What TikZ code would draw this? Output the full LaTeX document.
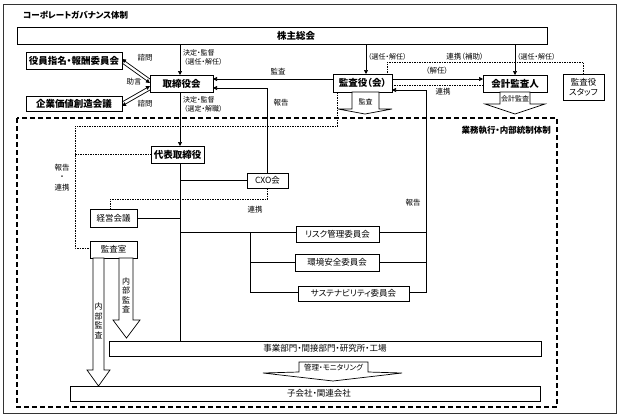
\documentclass[tikz,border=0pt]{standalone}
\usepackage{fontspec}
\setmainfont{Noto Sans CJK JP}[RawFeature=+palt]
\usetikzlibrary{arrows.meta,calc}
\begin{document}
\begin{tikzpicture}[x=1pt,y=-1pt,
  box/.style={draw,line width=0.8pt,fill=white,inner sep=0pt,outer sep=0pt,font=\fontsize{8.5}{9}\selectfont},
  bbox/.style={box,font=\fontsize{9.5}{10}\selectfont\bfseries},
  lbl/.style={inner sep=0pt,outer sep=0pt,font=\fontsize{7.5}{8}\selectfont},
  slbl/.style={lbl,font=\fontsize{7}{8}\selectfont},
  con/.style={line width=0.7pt},
  arr/.style={con,-{Triangle[length=4pt,width=4pt]}},
  dotl/.style={line width=0.6pt,dash pattern=on 1.5pt off 1pt},
  blk/.style={draw,line width=0.7pt,fill=white,line join=miter}
]
\useasboundingbox (0,0) rectangle (625,418);
\draw[line width=0.8pt,black!80] (3,4) rectangle (616,413);
\node[anchor=west,inner sep=0pt,font=\fontsize{8.5}{9}\selectfont\bfseries] (title) at (23,15) {コーポレートガバナンス体制};

% big dashed frame
\draw[line width=1.3pt,dash pattern=on 5pt off 3pt] (17,118) rectangle (557,407);
\node[anchor=east,inner sep=0pt,font=\fontsize{8.5}{9}\selectfont\bfseries] (gyomu) at (551,130) {業務執行・内部統制体制};

% coordinates for trunks
\coordinate (sp) at (180,0);
\coordinate (rt) at (426,0);
\coordinate (bt) at (250,0);

% nodes
\node[bbox,minimum width=530pt,minimum height=17pt] (kabunushi) at (282,35.5) {};
\node[inner sep=0pt,font=\fontsize{9.5}{10}\selectfont\bfseries] (kabunushiT) at (296,35.5) {株主総会};
\node[bbox,minimum width=96pt,minimum height=17pt] (yakuin) at (74,60.5) {役員指名・報酬委員会};
\node[bbox,minimum width=96pt,minimum height=15pt] (kigyo) at (74,103.5) {企業価値創造会議};
\node[bbox,minimum width=63pt,minimum height=17pt] (board) at (181.5,83.5) {取締役会};
\node[bbox,minimum width=59pt,minimum height=18pt] (kansayaku) at (362.5,83) {監査役（会）};
\node[bbox,minimum width=64pt,minimum height=17pt] (kaikei) at (515,83.5) {会計監査人};
\node[box,minimum width=41pt,minimum height=26pt,align=center,font=\fontsize{8.5}{10}\selectfont] (staff) at (583.5,87) {監査役\\スタッフ};
\node[bbox,minimum width=53pt,minimum height=17pt] (daihyo) at (177.5,154.5) {代表取締役};
\node[box,minimum width=41pt,minimum height=15pt] (cxo) at (267.5,180.5) {CXO会};
\node[box,minimum width=47pt,minimum height=18pt] (keiei) at (113.5,218) {経営会議};
\node[box,minimum width=47pt,minimum height=17pt] (kansashitsu) at (113.5,249.5) {監査室};
\node[box,minimum width=83pt,minimum height=16pt] (risk) at (337.5,234) {リスク管理委員会};
\node[box,minimum width=84pt,minimum height=17pt] (kankyo) at (337,262.5) {環境安全委員会};
\node[box,minimum width=111pt,minimum height=15pt] (sus) at (353.5,293.5) {サステナビリティ委員会};
\node[box,minimum width=432pt,minimum height=15pt] (jigyo) at (325,348.5) {事業部門・間接部門・研究所・工場};
\node[box,minimum width=470pt,minimum height=15pt] (kogaisha) at (305,393.5) {};
\node[inner sep=0pt,font=\fontsize{8.5}{9}\selectfont] (kogaishaT) at (319,393.5) {子会社・関連会社};

% connectors from shareholders
\draw[arr] (kabunushi.south -| sp) -- (board.north -| sp);
\draw[arr] (kabunushi.south -| 366,0) -- (kansayaku.north -| 366,0);
\draw[arr] (kabunushi.south -| kaikei) -- (kaikei.north);
\node[slbl,anchor=west] (l1a) at (183,53) {決定・監督};
\node[slbl,anchor=west] (l1b) at (184,62) {（選任・解任）};
\node[slbl,anchor=west] (l2) at (368,57) {（選任・解任）};
\node[slbl,anchor=west] (l3) at (517,57) {（選任・解任）};

% committees <-> board
\draw[arr] ($(board.west)+(0,-4.5)$) -- ($(yakuin.east)+(0,-1.5)$);
\draw[arr] ($(yakuin.east)+(0,2.5)$) -- ($(board.west)+(0,-0.5)$);
\draw[arr] ($(kigyo.east)+(0,-1.5)$) -- ($(board.west)+(0,2.5)$);
\draw[arr] ($(board.west)+(0,6.5)$) -- ($(kigyo.east)+(0,2.5)$);
\node[lbl] (s1) at (145,58) {諮問};
\node[lbl] (s2) at (134,82) {助言};
\node[lbl] (s3) at (145,104) {諮問};

% audit to board
\draw[arr] ($(kansayaku.west)+(0,-4)$) -- ($(board.east)+(0,-4.5)$);
\node[lbl] (l4) at (278,72) {監査};
% report CXO -> board
\draw[arr] (cxo.north) -- ($(cxo.north |- board.east)+(0,4.5)$) -- ($(board.east)+(0,4.5)$);
\node[lbl] (l5) at (281,103) {報告};

% board -> representative director
\draw[arr] (board.south -| sp) -- (daihyo.north -| sp);
\node[slbl,anchor=west] (l6a) at (183,100) {決定・監督};
\node[slbl,anchor=west] (l6b) at (184,109) {（選定・解職）};

% spine
\draw[con] (daihyo.south -| sp) -- (jigyo.north -| sp);
\draw[con] (cxo.west -| sp) -- (cxo.west);
\draw[con] (keiei.east) -- (keiei.east -| sp);
\draw[con] ($(sp |- risk.west)+(0,-2)$) -- ($(risk.west)+(0,-2)$);
\draw[con] ($(bt |- risk.west)+(0,-2)$) -- ($(bt |- sus.west)+(0,-1.5)$) -- ($(sus.west)+(0,-1.5)$);
\draw[con] ($(bt |- kankyo.west)+(0,-0.5)$) -- ($(kankyo.west)+(0,-0.5)$);

% right trunk (report to auditors)
\draw[arr] ($(sus.east)+(0,-1.5)$) -- ($(rt |- sus.east)+(0,-1.5)$) -- ($(rt |- kansayaku.east)+(0,7)$) -- ($(kansayaku.east)+(0,7)$);
\draw[con] ($(risk.east)+(0,-2)$) -- ($(rt |- risk.east)+(0,-2)$);
\draw[con] ($(kankyo.east)+(0,-0.5)$) -- ($(rt |- kankyo.east)+(0,-0.5)$);
\node[lbl] (l7) at (413,203) {報告};

% auditors <-> accounting auditor
\draw[arr] ($(kansayaku.east)+(0,-4)$) -- ($(kaikei.west)+(0,-4.5)$);
\draw[dotl] ($(kaikei.west)+(0,1.5)$) -- ($(kansayaku.east)+(0,2)$);
\node[lbl] (l8) at (437,71) {（解任）};
\node[lbl] (l9) at (443,92) {連携};

% staff dotted
\draw[dotl] (staff.north) -- (staff.north |- 0,62) -- (387,62) -- (kansayaku.north -| 387,0);
\node[lbl] (l10) at (465,57) {連携（補助）};

% dotted report lines
\draw[dotl] (kansayaku.south -| 337,0) -- (337,126) -- (75,126) -- ($(75,0 |- kansashitsu.west)+(0,-1.5)$) -- ($(kansashitsu.west)+(0,-1.5)$);
\draw[dotl] (75,0 |- daihyo.west) -- (daihyo.west);
\node[lbl] (l11a) at (62,168) {報告};
\node[lbl] (l11b) at (62,178) {・};
\node[lbl] (l11c) at (62,188) {連携};
\draw[dotl] (cxo.south) -- (cxo.south |- 0,199) -- (110,199) -- (keiei.north -| 110,0);
\node[lbl] (l12) at (255,210) {連携};

% block arrows
\path[blk] (352,92) -- (379,92) -- (379,109) -- (392,109) -- (365,114) -- (338,109) -- (352,109) -- cycle;
\node[lbl,font=\fontsize{7}{7}\selectfont] (ka1) at (365.5,102) {監査};
\path[blk] (500,92) -- (530,92) -- (530,104) -- (545,104) -- (515,114) -- (485,104) -- (500,104) -- cycle;
\node[lbl,font=\fontsize{7}{7}\selectfont] (ka2) at (515,98.5) {会計監査};
\path[blk] (93,258) -- (104,258) -- (104,370) -- (110,370) -- (98.5,386) -- (87,370) -- (93,370) -- cycle;
\node[lbl,align=center,font=\fontsize{8}{9.5}\selectfont] (nb1) at (98.5,321) {内\\部\\監\\査};
\path[blk] (119,258) -- (133,258) -- (133,320) -- (140,320) -- (126.5,338) -- (113,320) -- (119,320) -- cycle;
\node[lbl,align=center,font=\fontsize{8}{9.5}\selectfont] (nb2) at (126,295.5) {内\\部\\監\\査};
\path[blk] (299,362) -- (368,362) -- (368,372) -- (402,373) -- (333,381) -- (263,373) -- (299,372) -- cycle;
\node[lbl,font=\fontsize{7.5}{8}\selectfont] (km) at (333.5,367.5) {管理・モニタリング};
\end{tikzpicture}
\end{document}
